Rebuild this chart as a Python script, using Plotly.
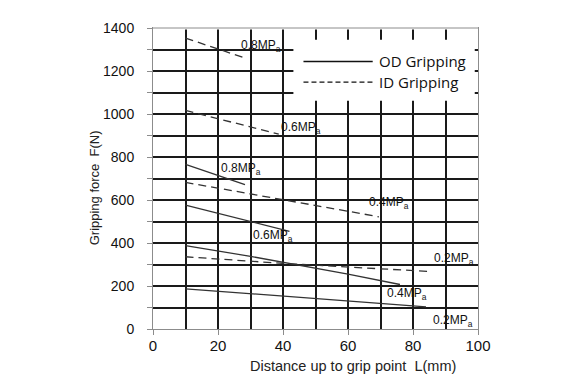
import plotly.graph_objects as go

# ---- data ----
L_OD_02 = [10, 42, 84]
F_OD_02 = [187, 152, 103]
L_OD_04 = [10, 30, 60, 76]
F_OD_04 = [388, 338, 255, 207]
L_OD_06 = [10, 42]
F_OD_06 = [576, 454]
L_OD_08 = [10, 28.3]
F_OD_08 = [766, 672]

L_ID_02 = [10, 40, 84.4]
F_ID_02 = [336, 305, 268]
L_ID_04 = [10, 69.5]
F_ID_04 = [682, 522]
L_ID_06 = [10, 38.7]
F_ID_06 = [1017, 906]
L_ID_08 = [10, 28.2]
F_ID_08 = [1353, 1261]

pressure_labels = ["0.8MPa", "0.6MPa", "0.8MPa", "0.4MPa", "0.6MPa", "0.2MPa", "0.4MPa", "0.2MPa"]
x_ticks = [0, 20, 40, 60, 80, 100]
x_minor = [10, 30, 50, 70, 90]
y_ticks = [0, 200, 400, 600, 800, 1000, 1200, 1400]
y_minor = [100, 300, 500, 700, 900, 1100, 1300]
legend_names = ["OD Gripping", "ID Gripping"]

# ---- styling ----
LINE_COLOR = "#333333"
GRID_COLOR = "#1a1a1a"
AXIS_COLOR = "#8c8c8c"
DASH = "8px,5px"
GRID_W = 1.6

fig = go.Figure()
od = [(L_OD_02, F_OD_02), (L_OD_04, F_OD_04), (L_OD_06, F_OD_06), (L_OD_08, F_OD_08)]
idg = [(L_ID_02, F_ID_02), (L_ID_04, F_ID_04), (L_ID_06, F_ID_06), (L_ID_08, F_ID_08)]
for xs, ys in od:
    fig.add_trace(go.Scatter(x=xs, y=ys, mode="lines", showlegend=False, hoverinfo="skip",
                             line=dict(color=LINE_COLOR, width=1.3)))
for xs, ys in idg:
    fig.add_trace(go.Scatter(x=xs, y=ys, mode="lines", showlegend=False, hoverinfo="skip",
                             line=dict(color=LINE_COLOR, width=1.3, dash=DASH)))

# label positions (data coordinates, left edge / vertical middle)
label_pos = [(26.6, 1315), (38.7, 934), (20.2, 746), (65.9, 588),
             (30.0, 431), (85.7, 324), (71.3, 164), (85.4, 35)]
annots = []
for txt, (lx, ly) in zip(pressure_labels, label_pos):
    annots.append(dict(x=lx, y=ly, xref="x", yref="y", text=txt[:-1] + "<sub>a</sub>",
                       showarrow=False, xanchor="left", yanchor="middle",
                       font=dict(family="Liberation Sans, Arial", size=12, color="#111")))

# axis titles
annots.append(dict(x=0.6155, y=-0.122, xref="paper", yref="paper",
                   text="Distance up to grip point\u00a0\u00a0L(mm)", showarrow=False,
                   xanchor="center", yanchor="middle",
                   font=dict(family="Liberation Sans, Arial", size=14.5, color="#222")))
annots.append(dict(x=-0.181, y=0.468, xref="paper", yref="paper",
                   text="Gripping force\u00a0\u00a0F(N)", showarrow=False, textangle=-90,
                   xanchor="center", yanchor="middle",
                   font=dict(family="Liberation Sans, Arial", size=13, color="#222")))

# manual legend + clean top frame (gray line, no dark gridline)
shapes = [dict(type="line", xref="paper", yref="paper", x0=0, x1=1, y0=1, y1=1,
               line=dict(color="white", width=3), layer="above"),
          dict(type="line", xref="paper", yref="paper", x0=0, x1=1, y0=1, y1=1,
               line=dict(color=AXIS_COLOR, width=1), layer="above"),
          dict(type="rect", xref="paper", yref="paper", x0=0.432, x1=0.990, y0=0.758, y1=0.961,
               fillcolor="white", line=dict(width=0), layer="above"),
          dict(type="line", xref="paper", yref="paper", x0=0.463, x1=0.676, y0=0.889, y1=0.889,
               line=dict(color="#111", width=1.5), layer="above"),
          dict(type="line", xref="paper", yref="paper", x0=0.463, x1=0.676, y0=0.820, y1=0.820,
               line=dict(color="#111", width=1.3, dash="5px,3px"), layer="above")]
for name, yy in zip(legend_names, [0.889, 0.820]):
    annots.append(dict(x=0.688, y=yy, xref="paper", yref="paper", text=name, showarrow=False,
                       xanchor="left", yanchor="middle",
                       font=dict(family="Open Sans", size=15, color="#111")))

fig.update_layout(
    width=567, height=372,
    margin=dict(l=145, r=97, t=15, b=51),
    paper_bgcolor="white", plot_bgcolor="white",
    annotations=annots, shapes=shapes,
    xaxis=dict(range=[0, 100], tickvals=x_ticks, ticktext=[str(v) for v in x_ticks],
               showgrid=True, gridcolor=GRID_COLOR, gridwidth=GRID_W,
               minor=dict(tickvals=x_minor, showgrid=True, gridcolor=GRID_COLOR,
                          gridwidth=GRID_W, ticks=""),
               zeroline=False, showline=True, linecolor=AXIS_COLOR, linewidth=1, mirror=True,
               ticks="outside", ticklen=5, tickcolor=AXIS_COLOR, ticklabelstandoff=-2,
               tickfont=dict(family="Liberation Sans, Arial", size=15, color="#111")),
    yaxis=dict(range=[0, 1400], tickvals=y_ticks, ticktext=[str(v) for v in y_ticks],
               showgrid=True, gridcolor=GRID_COLOR, gridwidth=GRID_W,
               minor=dict(tickvals=y_minor, showgrid=True, gridcolor=GRID_COLOR,
                          gridwidth=GRID_W, ticks="outside", ticklen=5, tickcolor=AXIS_COLOR),
               zeroline=False, showline=True, linecolor=AXIS_COLOR, linewidth=1, mirror=True,
               ticks="outside", ticklen=5, tickcolor=AXIS_COLOR, ticklabelstandoff=10,
               tickfont=dict(family="Liberation Sans, Arial", size=14, color="#111")),
)

fig.write_html("out.html")
